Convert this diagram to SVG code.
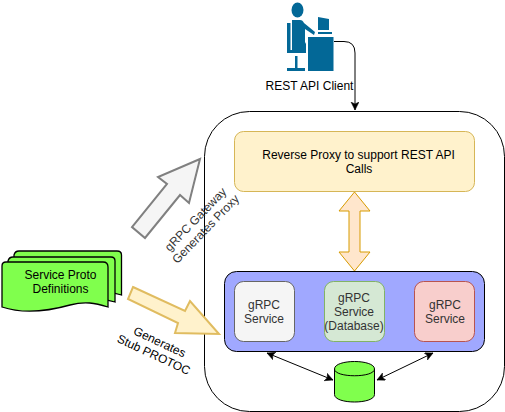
<svg xmlns="http://www.w3.org/2000/svg" width="505" height="412" viewBox="0 0 505 412">
<defs>
<marker id="ah" markerWidth="10" markerHeight="10" refX="8" refY="4" orient="auto-start-reverse" markerUnits="userSpaceOnUse"><path d="M0,0 L8,4 L0,8 L2,4 Z" fill="#000" stroke="#000" stroke-width="0.5"/></marker>
</defs>
<style>
text{font-family:Helvetica,"Liberation Sans",Arial,sans-serif;font-size:12px;fill:#000;text-anchor:middle}
.g{fill:#333}
.svc{stroke-width:1}
.doc{fill:#80ff4d;stroke:#000;stroke-width:1.3}
.c{fill:none;stroke:#000;stroke-width:1;marker-end:url(#ah);marker-start:url(#ah)}
</style>
<g id="outer"><rect x="204.500" y="111.500" width="300" height="300" rx="45" fill="#fff" stroke="#000"/></g>
<g id="client" fill="#036897">
<ellipse cx="297.500" cy="10" rx="6" ry="7.500"/>
<path d="M292,20 L300,20 C302,20 303,21 304,23 L315,32 L314,35 L305,29 L305,42 L306,44 L306,50 L292,50 Z"/>
<path d="M287,23 L290.500,23 L290.500,50 L306,50 L306,53 L287,53 Z"/>
<rect x="295" y="56" width="2.500" height="12"/>
<rect x="287" y="68" width="18" height="3"/>
<rect x="308" y="37" width="25.500" height="34"/>
<path d="M318,17 L329,19 L329,30 L318,30 Z"/>
<rect x="318" y="32" width="14" height="2"/>
</g>
<g id="client-label"><text x="309.500" y="90">REST API Client</text></g>
<g id="proxy"><rect x="234.500" y="131.500" width="240" height="60" rx="9" fill="#fff2cc" stroke="#d6b656"/><text x="358.500" y="159">Reverse Proxy to support REST API</text><text x="359" y="173">Calls</text></g>
<g id="cluster"><rect x="224.500" y="271.500" width="260" height="80" rx="12" fill="#a0a8ff" stroke="#000"/></g>
<g id="svc1"><rect x="234.500" y="281.500" width="60" height="60" rx="9" fill="#f5f5f5" stroke="#666" class="svc"/><text class="g" x="264" y="309">gRPC</text><text class="g" x="264" y="323">Service</text></g>
<g id="svc2"><rect x="324.500" y="281.500" width="60" height="60" rx="9" fill="#d5e8d4" stroke="#82b366" class="svc"/><text class="g" x="354" y="302">gRPC</text><text class="g" x="354" y="316">Service</text><text class="g" x="354" y="330">(Database)</text></g>
<g id="svc3"><rect x="414.500" y="281.500" width="60" height="60" rx="9" fill="#f8cecc" stroke="#b85450" class="svc"/><text class="g" x="445" y="309">gRPC</text><text class="g" x="445" y="323">Service</text></g>
<g id="db"><path d="M334.500,369 C334.500,359 374.500,359 374.500,369 L374.500,394.500 C374.500,404.500 334.500,404.500 334.500,394.500 Z" fill="#80ff4d" stroke="#000"/><path d="M334.500,369 C334.500,378 374.500,378 374.500,369" fill="none" stroke="#000"/></g>
<g id="docs">
<path class="doc" d="M14,255 Q15,251 19,251 L117,251 Q121.500,251 121.500,255 L121.500,295 C105,289 90,295 70,297 L14,290 Z"/>
<path class="doc" d="M8,261 Q9,257 13,257 L111,257 Q115,257 115,261 L115,302 C100,297 85,302 65,304 L8,297 Z"/>
<path class="doc" d="M2,266 Q2,262 6,262 L103,262 Q108,262 108,267 L108,307 C95,303 85,301 70,305 C45,312 20,313 2,307 Z"/>
<text x="60.500" y="278.500">Service Proto</text><text x="60.500" y="293">Definitions</text>
</g>
<g id="connectors">
<path d="M334,41.500 L344,41.500 Q355,41.500 355,53 L355,110" fill="none" stroke="#000" marker-end="url(#ah)"/>
<path d="M267,353 L333,380" class="c"/>
<path d="M433,353 L377,380" class="c"/>
<path d="M354.500,192 L370,211 L360,211 L360,252 L370,252 L354.500,271 L339,252 L349,252 L349,211 L339,211 Z" fill="#ffe6cc" stroke="#d79b00"/>
<path d="M200,159 L158,177 L167,184 L132,227 L145,238 L180,195 L189,203 Z" fill="#f5f5f5" stroke="#808080" stroke-width="2"/>
<path d="M133,287 L185,311 L190,301 L219,334 L175,333 L178,323 L128,299 Z" fill="#fff2cc" stroke="#e0bc60" stroke-width="2"/>
</g>
<g id="labels">
<text transform="translate(203.500,227) rotate(-46)" class="g"><tspan x="0" y="-7">gRPC Gateway</tspan><tspan x="0" y="7">Generates Proxy</tspan></text>
<text transform="translate(155,352) rotate(25)"><tspan x="0" y="-7">Generates</tspan><tspan x="0" y="7">Stub PROTOC</tspan></text>
</g>
</svg>
